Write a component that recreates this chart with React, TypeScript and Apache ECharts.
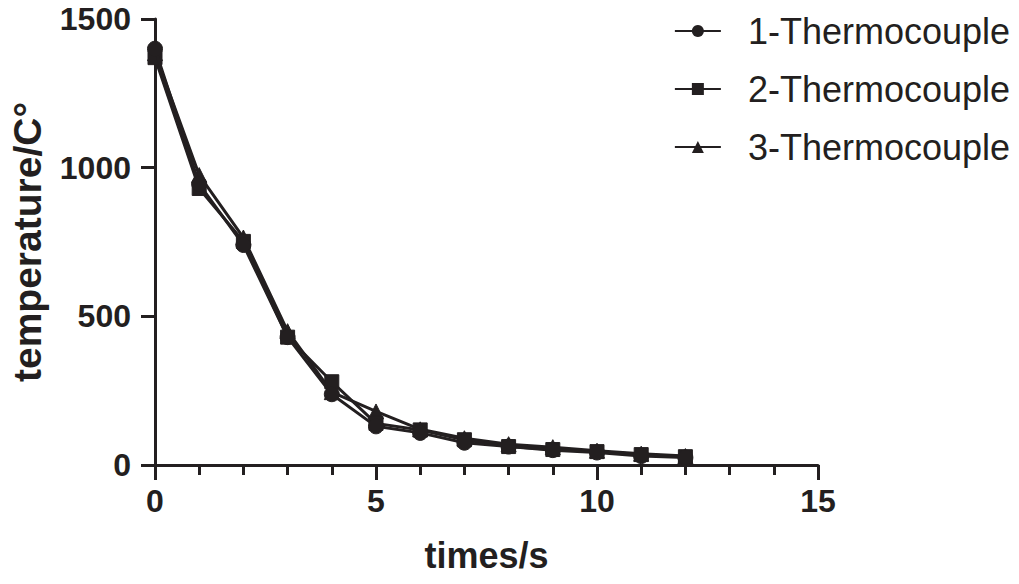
import React, { useEffect, useRef } from "react";
import * as echarts from "echarts";

const timeSteps = [0, 1, 2, 3, 4, 5, 6, 7, 8, 9, 10, 11, 12];
const seriesNames = ["1-Thermocouple", "2-Thermocouple", "3-Thermocouple"];
const thermo1 = [1400, 945, 740, 430, 238, 130, 108, 75, 62, 50, 42, 30, 25];
const thermo2 = [1370, 930, 752, 430, 280, 140, 118, 85, 62, 52, 45, 35, 28];
const thermo3 = [1385, 975, 765, 450, 245, 180, 120, 90, 70, 60, 48, 38, 30];
const symbols = ["circle", "rect", "triangle"];

const INK = "#231f20";
const FONT = "'Liberation Sans', Arial, Helvetica, sans-serif";

export default function App() {
  const ref = useRef<HTMLDivElement>(null);
  useEffect(() => {
    if (!ref.current) return;
    const chart = echarts.init(ref.current, undefined, { renderer: "svg" });
    const all = [thermo1, thermo2, thermo3];
    chart.setOption({
      animation: false,
      backgroundColor: "#ffffff",
      textStyle: { fontFamily: FONT },
      grid: { left: 152, right: 201, top: 19, bottom: 119, containLabel: false },
      legend: {
        orient: "vertical",
        right: 4,
        top: 8,
        itemWidth: 46,
        itemHeight: 15,
        itemGap: 22,
        textStyle: { fontSize: 36, color: INK, fontFamily: FONT, padding: [0, 0, 0, 22] },
        data: seriesNames,
      },
      xAxis: {
        type: "value",
        min: 0,
        max: 15,
        interval: 5,
        name: "times/s",
        nameLocation: "middle",
        nameGap: 72,
        nameTextStyle: { fontSize: 36, fontWeight: "bold", color: INK, fontFamily: FONT },
        axisLine: { show: true, onZero: false, lineStyle: { color: INK, width: 3 } },
        axisTick: { show: true, length: 15, lineStyle: { color: INK, width: 3 } },
        minorTick: { show: true, splitNumber: 5, length: 10, lineStyle: { color: INK, width: 3 } },
        axisLabel: { fontSize: 32, fontWeight: "bold", color: INK, margin: 20, fontFamily: FONT },
        splitLine: { show: false },
        minorSplitLine: { show: false },
      },
      yAxis: {
        type: "value",
        min: 0,
        max: 1500,
        interval: 500,
        name: "temperature/C°",
        nameLocation: "middle",
        nameGap: 108,
        nameTextStyle: { fontSize: 39, fontWeight: "bold", color: INK, fontFamily: FONT },
        axisLine: { show: true, lineStyle: { color: INK, width: 3 } },
        axisTick: { show: true, length: 14, lineStyle: { color: INK, width: 3 } },
        axisLabel: {
          fontSize: 32,
          fontWeight: "bold",
          color: INK,
          margin: 24,
          fontFamily: FONT,
          formatter: (v: number) => String(v),
        },
        splitLine: { show: false },
      },
      series: all.map((vals, i) => ({
        name: seriesNames[i],
        type: "line",
        data: timeSteps.map((t, j) => [t, vals[j]]),
        symbol: symbols[i],
        symbolSize: i === 1 ? 14 : 15,
        showSymbol: true,
        lineStyle: { color: INK, width: 3 },
        itemStyle: { color: INK, borderColor: INK },
        z: 3 - i,
      })),
    });
    return () => chart.dispose();
  }, []);
  return (
    <div
      ref={ref}
      style={{ position: "fixed", left: 0, top: 0, width: 1019, height: 584, background: "#fff" }}
    />
  );
}
